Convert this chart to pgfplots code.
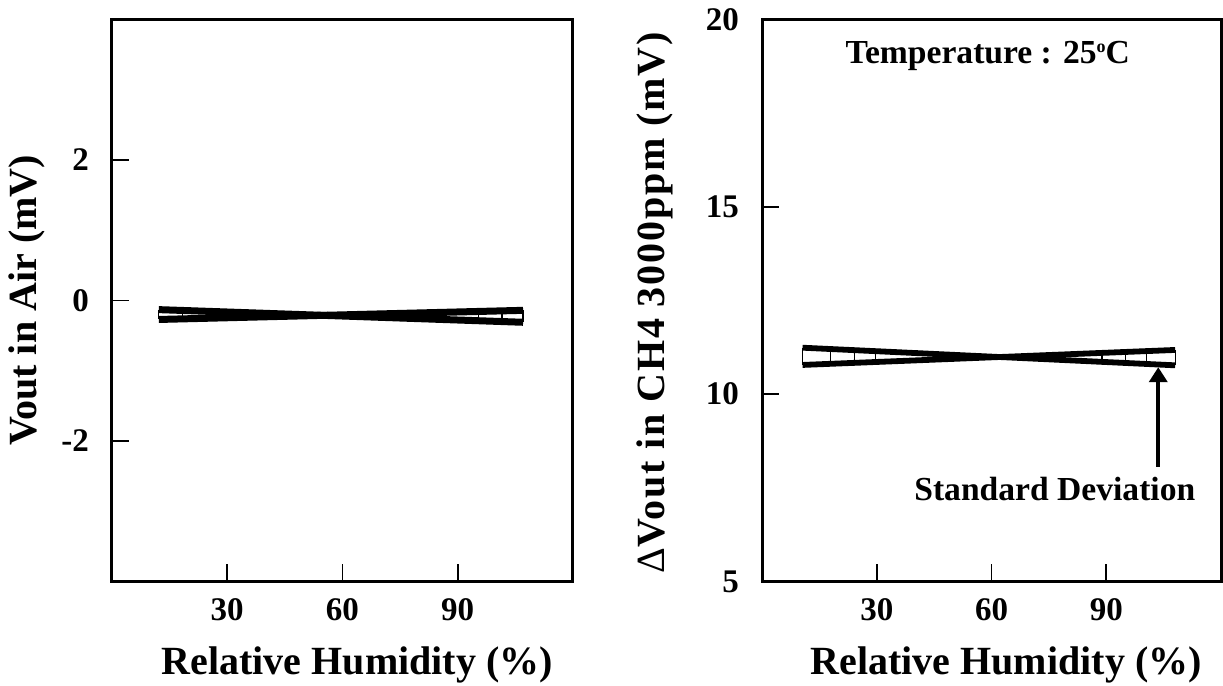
\documentclass[border=0pt]{standalone}
\usepackage{fontspec}
\setmainfont{Liberation Serif}
\usepackage{pgfplots}
\pgfplotsset{compat=1.18}
\usetikzlibrary{arrows.meta}

\newcommand{\labfont}{\bfseries\fontsize{20}{24}\selectfont}
\newcommand{\txtfont}{\bfseries\fontsize{16.8}{20}\selectfont}

\pgfplotsset{
  rhplot/.style={
    scale only axis,
    height=281pt,
    xmin=0, xmax=120,
    xtick={30,60,90},
    tick align=inside,
    xtick pos=lower, ytick pos=left,
    major tick length=8.5pt,
    axis line style={line width=1.5pt, black},
    tick style={line width=0.8pt, black},
    tick label style={font=\bfseries\fontsize{16.5}{19}\selectfont},
    xticklabel style={yshift=-5pt},
    yticklabel style={xshift=-8pt},
    /pgf/number format/assume math mode=true,
    every axis x label/.style={at={(axis description cs:0.532,-0.166)}, anchor=base, font=\labfont},
    xlabel={Relative Humidity (\%)},
  },
  band/.style={black, line cap=butt, line join=miter},
  sd/.style={black, line width=0.6pt, unbounded coords=jump},
}

\begin{document}
\begin{tikzpicture}

% left: output in air
\begin{axis}[rhplot,
  at={(56pt,52.25pt)}, anchor=south west,
  width=230.5pt,
  ymin=-4, ymax=4,
  ytick={-2,0,2}, yticklabels={-2,0,2},
  every axis y label/.style={at={(axis description cs:-0.163,0.5)}, rotate=90, anchor=base, font=\labfont},
  ylabel={Vout in Air (mV)},
]
\addplot[band, line width=3.5pt] coordinates {(12.2,-0.13) (107,-0.31)};
\addplot[band, line width=3.5pt] coordinates {(12.2,-0.27) (107,-0.14)};
\addplot[sd] coordinates {
  (12.2,-0.13) (12.2,-0.27) (12.2,nan)
  (18.4,-0.142) (18.4,-0.262) (18.4,nan)
  (95.3,-0.288) (95.3,-0.156) (95.3,nan)
  (101.5,-0.300) (101.5,-0.148) (101.5,nan)
  (107,-0.31) (107,-0.14)
};
\end{axis}

% right: response to CH4
\begin{axis}[rhplot,
  at={(381pt,52.25pt)}, anchor=south west,
  width=229.5pt,
  ymin=5, ymax=20,
  ytick={5,10,15,20},
  every axis y label/.style={at={(axis description cs:-0.213,0.496)}, rotate=90, anchor=base, font=\labfont\addfontfeatures{LetterSpace=4.5}},
  ylabel={{\mdseries Δ}Vout in CH4 3000ppm (mV)},
]
\addplot[band, line width=2.9pt] coordinates {(10.6,11.24) (108,10.77)};
\addplot[band, line width=2.9pt] coordinates {(10.6,10.78) (108,11.18)};
\addplot[sd] coordinates {
  (10.6,11.24) (10.6,10.78) (10.6,nan)
  (18,11.204) (18,10.810) (18,nan)
  (24.1,11.175) (24.1,10.835) (24.1,nan)
  (29.7,11.148) (29.7,10.858) (29.7,nan)
  (88.9,10.862) (88.9,11.102) (88.9,nan)
  (95,10.833) (95,11.127) (95,nan)
  (100.6,10.806) (100.6,11.150) (100.6,nan)
  (108,10.77) (108,11.18)
};
\addplot[black, line width=2pt, -{Triangle[length=7.5pt, width=9pt]}]
  coordinates {(103.6,8.06) (103.6,10.72)};
\node[font=\txtfont, anchor=base]
  at (rel axis cs:0.492,0.921) {Temperature : 25\raisebox{0.75ex}{\fontsize{9}{9}\selectfont o}C};
\node[font=\txtfont, anchor=base]
  at (rel axis cs:0.638,0.145) {Standard Deviation};
\end{axis}

\pgfresetboundingbox
\path[use as bounding box] (0,0) rectangle (611.5pt,343pt);
\end{tikzpicture}
\end{document}
